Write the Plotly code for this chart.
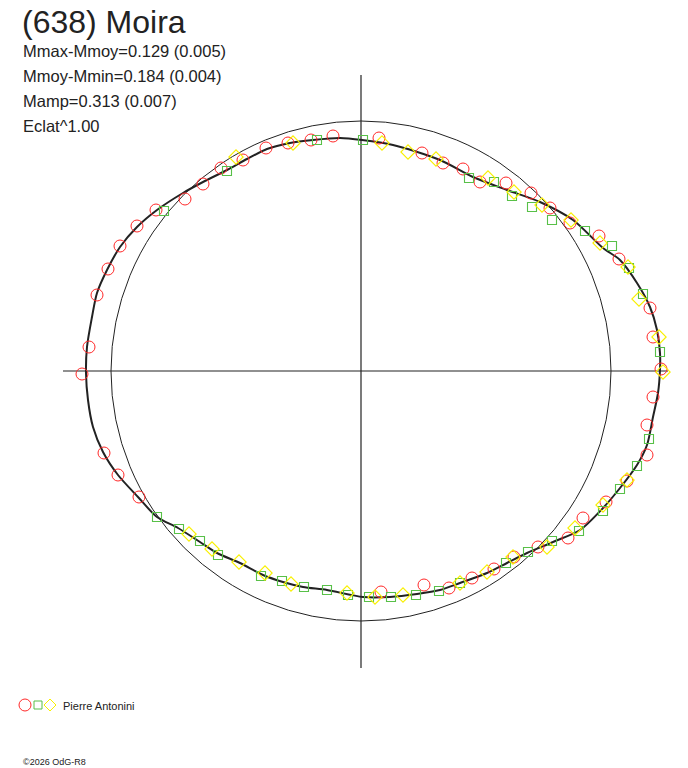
import plotly.graph_objects as go

# polar light curve of (638) Moira, coordinates relative to centre (1 unit = 1 px)
W, H = 688, 768

ref_radius = 250  # mean magnitude circle

# fitted curve
curve_x = [-21, 1, 32, 79, 112, 146, 179, 212, 242, 259, 276, 289, 296, 299, 299, 297, 292, 286,
           276, 259, 242, 219, 192, 166, 146, 126, 99, 79, 56, 29, 2, -34, -58, -78, -98, -121,
           -144, -161, -183, -204, -223, -243, -258, -268, -273, -275, -274, -269, -264, -254,
           -241, -224, -204, -178, -158, -134, -114, -94, -71, -48, -21]
curve_y = [233, 231, 226, 211, 194, 181, 169, 151, 123, 111, 88, 64, 41, 18, 1, -22, -46, -74,
           -94, -117, -137, -159, -171, -182, -192, -202, -212, -219, -223, -226, -226, -219, -216,
           -211, -204, -192, -182, -171, -157, -146, -126, -104, -81, -56, -29, -2, 24, 54, 78, 101,
           124, 144, 161, 178, 189, 201, 212, 222, 228, 231, 233]

# observations (three sessions)
red_x = [-241, -224, -205, -176, -158, -140, -118, -95, -73, -50, -28, 18, 61, 82, 102, 119, 145,
         170, 189, 209, 238, 258, 289, 292, 300, 292, 286, 286, 266, 245, 222, 207, 177, 153, 133,
         111, 88, 63, 20, -222, -243, -257, -279, -272, -264, -253]
red_y = [125, 145, 161, 172, 187, 203, 211, 223, 228, 231, 235, 233, 218, 208, 202, 189, 188, 178,
         163, 148, 135, 112, 63, 34, 2, -26, -54, -84, -110, -131, -147, -167, -176, -186, -198,
         -207, -217, -214, -221, -126, -104, -82, -3, 24, 76, 102]

green_x = [-197, -134, -44, 2, 108, 133, 151, 171, 191, 224, 251, 268, 282, 299, 288, 276, 259, 242,
           218, 191, 167, 145, 99, 78, 55, 30, 8, -204, -182, -161, -143, -100, -79, -57, -34, -13]
green_y = [160, 200, 231, 231, 193, 189, 175, 164, 151, 140, 125, 103, 77, 19, -68, -95, -118, -140,
           -160, -170, -181, -192, -212, -220, -224, -226, -226, -146, -158, -170, -184, -205, -210,
           -216, -219, -224]

yellow_x = [-125, -68, 21, 47, 75, 127, 153, 181, 210, 239, 267, 278, 298, 302, 266, 242, 214, 186,
            152, 126, 99, 42, 14, -172, -149, -122, -96, -70, -14]
yellow_y = [214, 228, 228, 219, 212, 193, 179, 166, 151, 128, 104, 72, 34, -1, -109, -134, -157,
            -176, -186, -201, -212, -224, -226, -163, -178, -191, -202, -213, -222]

title = "(638) Moira"
info_lines = ["Mmax-Mmoy=0.129 (0.005)", "Mmoy-Mmin=0.184 (0.004)", "Mamp=0.313 (0.007)", "Eclat^1.00"]
observer = "Pierre Antonini"
footer = "©2026 OdG-R8"

RED, GREEN, YELLOW = "#ff2828", "#58c048", "#f8f000"
FONT = "Liberation Sans, Arial, sans-serif"

fig = go.Figure()

fig.add_trace(go.Scatter(x=curve_x, y=curve_y, mode="lines", line=dict(color="#222222", width=2, shape="spline", smoothing=0.8),
                         hoverinfo="skip"))
fig.add_trace(go.Scatter(x=red_x, y=red_y, mode="markers",
                         marker=dict(symbol="circle-open", size=12, color=RED, line=dict(width=1, color=RED))))
fig.add_trace(go.Scatter(x=green_x, y=green_y, mode="markers",
                         marker=dict(symbol="square-open", size=9, color=GREEN, line=dict(width=1.1, color=GREEN))))
fig.add_trace(go.Scatter(x=yellow_x, y=yellow_y, mode="markers",
                         marker=dict(symbol="diamond-open", size=11, color=YELLOW, line=dict(width=1.1, color=YELLOW))))

# reference circle and axes
fig.add_shape(type="circle", xref="x", yref="y", x0=-ref_radius, y0=-ref_radius, x1=ref_radius, y1=ref_radius,
              line=dict(color="#222222", width=1), layer="below")
fig.add_shape(type="line", xref="x", yref="y", x0=-298, y0=0, x1=307, y1=0, line=dict(color="#222222", width=1.2), layer="below")
fig.add_shape(type="line", xref="x", yref="y", x0=0, y0=296, x1=0, y1=-297, line=dict(color="#222222", width=1.2), layer="below")


def px(v):
    return v / W


def py(v):
    return 1 - v / H


# legend symbols
fig.add_shape(type="circle", xref="paper", yref="paper", x0=px(19), x1=px(31), y0=py(699), y1=py(711),
              line=dict(color=RED, width=1))
fig.add_shape(type="rect", xref="paper", yref="paper", x0=px(34), x1=px(42), y0=py(701), y1=py(709),
              line=dict(color=GREEN, width=1))
fig.add_shape(type="path", xref="paper", yref="paper",
              path=f"M {px(44)} {py(705)} L {px(50)} {py(699)} L {px(56)} {py(705)} L {px(50)} {py(711)} Z",
              line=dict(color=YELLOW, width=1))

fig.add_annotation(text=title, xref="paper", yref="paper", x=px(20), y=py(22), xanchor="left", yanchor="middle",
                   showarrow=False, font=dict(family=FONT, size=32, color="#222222"))
for i, line in enumerate(info_lines):
    fig.add_annotation(text=line, xref="paper", yref="paper", x=px(21), y=py(51 + 25 * i), xanchor="left",
                       yanchor="middle", showarrow=False, font=dict(family=FONT, size=16.5, color="#222222"))
fig.add_annotation(text=observer, xref="paper", yref="paper", x=px(61), y=py(706), xanchor="left", yanchor="middle",
                   showarrow=False, font=dict(family=FONT, size=11, color="#222222"))
fig.add_annotation(text=footer, xref="paper", yref="paper", x=px(21), y=py(762), xanchor="left", yanchor="middle",
                   showarrow=False, font=dict(family=FONT, size=9, color="#222222"))

fig.update_layout(width=W, height=H, margin=dict(l=0, r=0, t=0, b=0), showlegend=False,
                  paper_bgcolor="white", plot_bgcolor="white")
fig.update_xaxes(range=[-361, W - 361], visible=False, showgrid=False, zeroline=False)
fig.update_yaxes(range=[371 - H, 371], visible=False, showgrid=False, zeroline=False)

fig.write_html("out.html", config={"displayModeBar": False}, post_script="document.body.style.margin='0';")
